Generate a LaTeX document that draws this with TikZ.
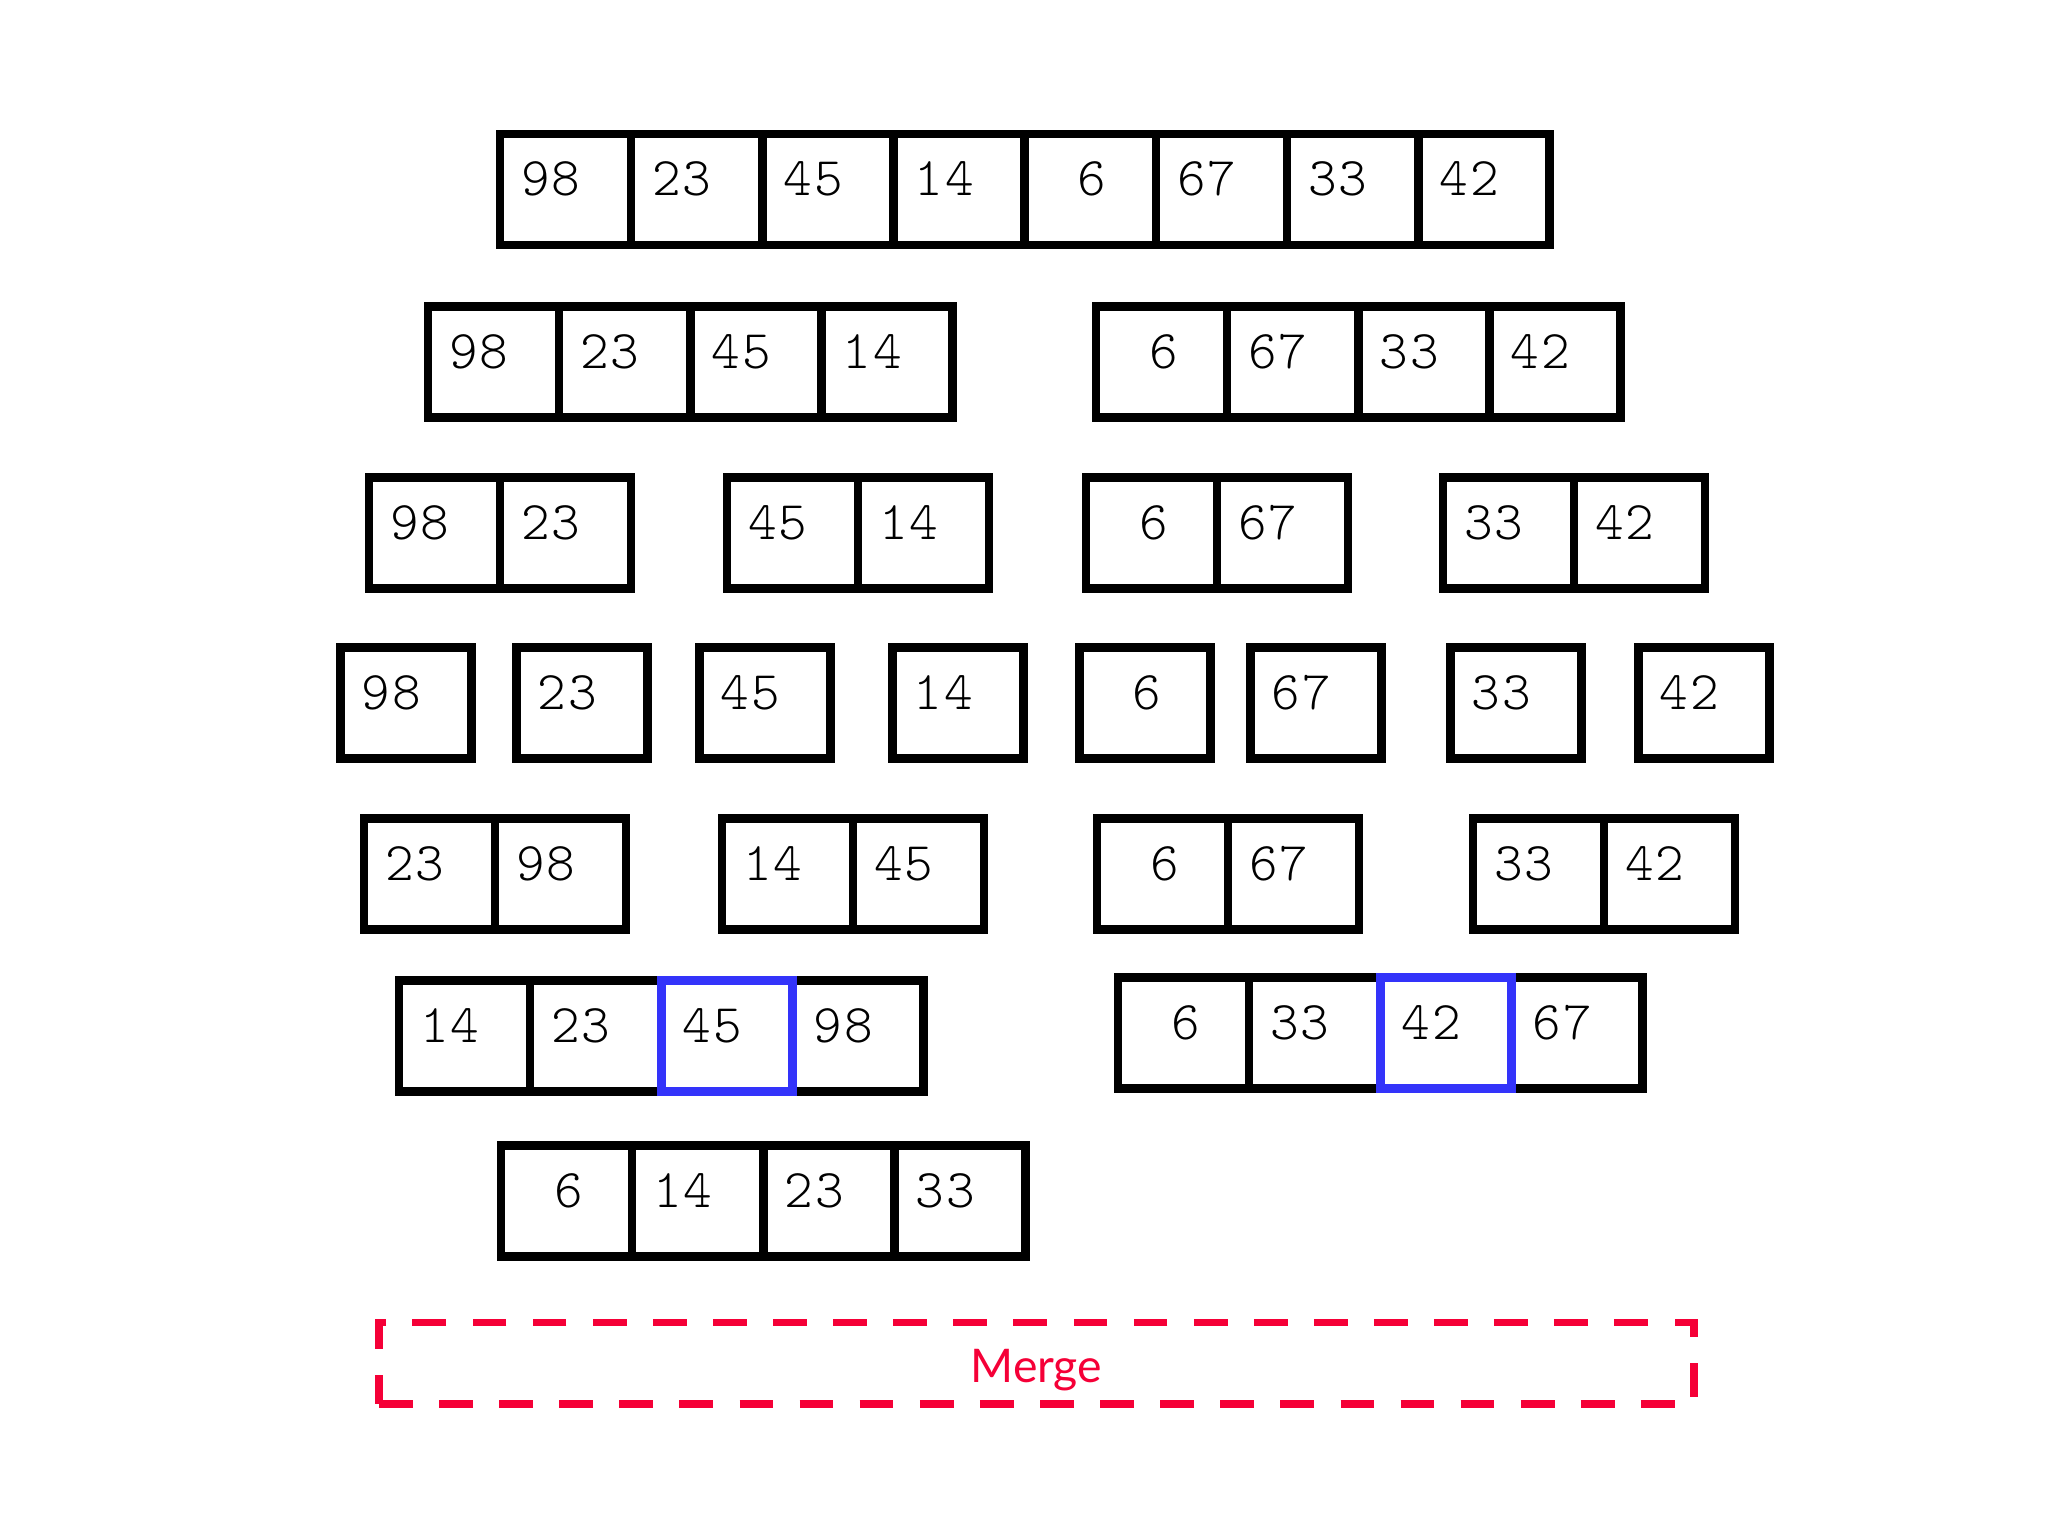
\documentclass[tikz,border=0pt]{standalone}
\usepackage{fontspec}
\newfontfamily\lato{Lato}
\newfontfamily\cellfont[LetterSpace=4]{Latin Modern Mono Light}
\usepackage{tikz}
\usetikzlibrary{positioning}
\usepackage{xcolor}
\definecolor{hlblue}{RGB}{51,51,250}
\definecolor{mergered}{RGB}{245,0,55}

\begin{document}
\begin{tikzpicture}[
  cell/.style={draw, line width=2.4pt, outer sep=0pt, minimum height=1.108cm,
    text width=0.89cm, inner xsep=0.21cm, inner ysep=0pt, align=left,
    text height=0.28cm, text depth=0.15cm,
    font=\fontsize{15.5}{18}\selectfont\cellfont},
  hl/.style={draw=hlblue, line width=2.4pt},
  mergebox/.style={draw=mergered, line width=2.2pt, dash pattern=on 9.6pt off 7.5pt,
    minimum width=13.15cm, minimum height=0.817cm, text=mergered,
    text height=0.39cm, text depth=0cm, font=\lato\fontsize{13.2}{16}\selectfont}
]
  \useasboundingbox (0,0) rectangle (20.48,15.36);
  \def\w{1.312}
  \foreach \nm/\x/\y/\vals in {
      r1/5.655/13.465/{98,23,45,14,6,67,33,42},
      r2a/4.935/11.74/{98,23,45,14}, r2b/11.615/11.74/{6,67,33,42},
      r3a/4.345/10.03/{98,23}, r3b/7.925/10.03/{45,14},
      r3c/11.515/10.03/{6,67}, r3d/15.085/10.03/{33,42},
      r4a/4.06/8.33/{98}, r4b/5.82/8.33/{23}, r4c/7.65/8.33/{45}, r4d/9.58/8.33/{14},
      r4e/11.45/8.33/{6}, r4f/13.16/8.33/{67}, r4g/15.16/8.33/{33}, r4h/17.04/8.33/{42},
      r5a/4.295/6.62/{23,98}, r5b/7.875/6.62/{14,45},
      r5c/11.625/6.62/{6,67}, r5d/15.385/6.62/{33,42},
      r6a/4.645/5.00/{14,23,45,98}, r6b/11.835/5.03/{6,33,42,67},
      r7/5.665/3.35/{6,14,23,33}} {
    \foreach \v [count=\k] in \vals {
      \node[cell] (\nm-\k) at ({\x+(\k-1)*\w},\y) {\ifnum\v<10 \phantom{0}\kern1pt\fi\v};
    }
  }
  \draw[hl] (r6a-3.south west) rectangle (r6a-3.north east);
  \draw[hl] (r6b-3.south west) rectangle (r6b-3.north east);

  \node[mergebox] (merge) at (10.364,1.727) {Merge};
\end{tikzpicture}
\end{document}
